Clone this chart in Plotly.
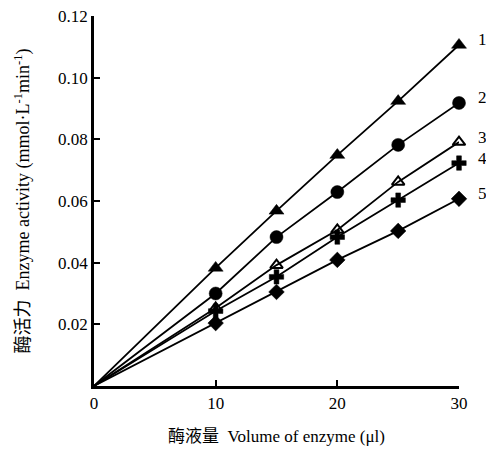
import plotly.graph_objects as go

volume = [0, 10, 15, 20, 25, 30]
series_labels = ["1", "2", "3", "4", "5"]
s1 = [0, 0.0383, 0.0568, 0.0749, 0.0924, 0.1106]
s2 = [0, 0.0300, 0.0483, 0.0629, 0.0782, 0.0918]
s3 = [0, 0.0253, 0.0392, 0.0506, 0.0662, 0.0791]
s4 = [0, 0.0243, 0.0354, 0.0483, 0.0603, 0.0723]
s5 = [0, 0.0204, 0.0305, 0.0409, 0.0503, 0.0607]
x_ticks = [0, 10, 20, 30]
y_ticks = [0.02, 0.04, 0.06, 0.08, 0.10, 0.12]
y_ticktext = ["0.02", "0.04", "0.06", "0.08", "0.10", "0.12"]

series = [s1, s2, s3, s4, s5]
symbols = ["triangle-up", "circle", "triangle-up-open", "cross", "diamond"]
msizes = [13, 13, 11, 12, 12]

fig = go.Figure()
for ys, sym, ms, lab in zip(series, symbols, msizes, series_labels):
    sizes = [0] + [ms] * (len(volume) - 1)
    fig.add_trace(go.Scatter(
        x=volume, y=ys, mode="lines+markers",
        line=dict(color="#000000", width=1.8),
        marker=dict(symbol=sym, size=sizes, color="#000000", opacity=1,
                    line=dict(color="#000000", width=2 if "open" in sym else 0.5)),
        cliponaxis=False, showlegend=False, name=lab))
    fig.add_annotation(x=volume[-1], y=ys[-1], text=lab, showarrow=False,
                       xshift=23, yshift=5, font=dict(size=17, color="black",
                                                      family="Liberation Serif"))

fig.update_layout(
    width=486, height=450,
    margin=dict(l=94, r=27, t=16, b=64),
    plot_bgcolor="white", paper_bgcolor="white",
    font=dict(family="Liberation Serif, Noto Sans CJK SC", size=17, color="black"),
)
fig.update_xaxes(
    range=[0, 30], tickvals=x_ticks, ticks="inside", ticklen=6, tickwidth=2,
    tickcolor="black", showline=True, linewidth=2.5, linecolor="black",
    showgrid=False, zeroline=False, tickfont=dict(size=17), automargin=False,
    title=dict(text="酶液量  Volume of enzyme (μl)", font=dict(size=17), standoff=18),
)
fig.update_yaxes(
    range=[0, 0.12], tickvals=y_ticks, ticktext=y_ticktext, ticks="inside",
    ticklen=6, tickwidth=2, tickcolor="black", showline=True, linewidth=2.5,
    linecolor="black", showgrid=False, zeroline=False, tickfont=dict(size=17),
    automargin=False,
    title=dict(text="酶活力  Enzyme activity (mmol·L<sup>-1</sup>min<sup>-1</sup>)",
               font=dict(size=18), standoff=24),
)
fig.write_html("out.html")
